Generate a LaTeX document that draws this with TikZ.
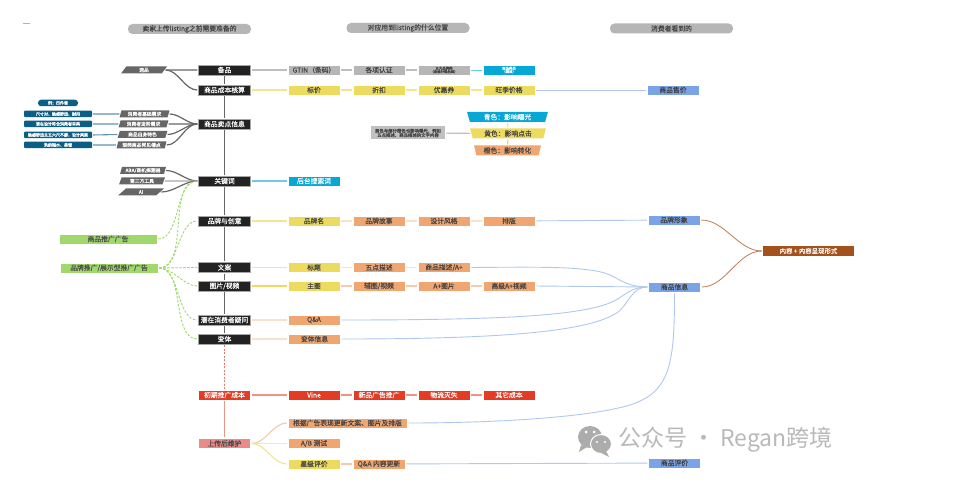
\documentclass[tikz,border=0pt]{standalone}
\usepackage{fontspec}
\setmainfont{Noto Sans CJK SC}[FakeBold=0.1]
\newfontfamily\wmfont{Noto Sans CJK SC}
\usetikzlibrary{shapes.geometric}
\definecolor{cdark}{HTML}{222222}
\definecolor{cgray}{HTML}{B6B6B6}
\definecolor{cslate}{HTML}{666666}
\definecolor{cyel}{HTML}{ECDB5E}
\definecolor{cora}{HTML}{F0A670}
\definecolor{ccyan}{HTML}{08A8D6}
\definecolor{cblue}{HTML}{7BA4E6}
\definecolor{cgreen}{HTML}{A0D86C}
\definecolor{cred}{HTML}{E43B25}
\definecolor{cpink}{HTML}{E98B88}
\definecolor{cbrown}{HTML}{A4521C}
\definecolor{cteal}{HTML}{0B5E85}
\definecolor{ctext}{HTML}{444444}
\newcommand{\fs}[1]{\fontsize{#1}{#1}\selectfont}
\tikzset{
  box/.style={rectangle,minimum width=52,minimum height=10,inner sep=0,font=\fs{6.8},text=ctext,draw=white,line width=.5},
  mainbox/.style={box,fill=cdark,draw=gray!70,text=white},
  graybox/.style={box,fill=cgray},
  yelbox/.style={box,fill=cyel},
  orabox/.style={box,fill=cora},
  cyanbox/.style={box,fill=ccyan,text=white},
  bluebox/.style={box,fill=cblue,text=black!75},
  redbox/.style={box,fill=cred,text=white},
  greenbox/.style={box,fill=cgreen,minimum width=98,text=black!70},
  pill/.style={rectangle,rounded corners=4.5,fill=cgray,minimum width=123,minimum height=10,inner sep=0,font=\fs{6.8},text=ctext},
  para/.style={trapezium,trapezium left angle=72,trapezium right angle=108,trapezium stretches=true,minimum width=50,minimum height=7,inner sep=0,fill=cslate,text=white,font=\fs{4.8}},
  teal/.style={rectangle,rounded corners=1,fill=cteal,text=white,minimum width=68,minimum height=6.5,inner sep=0,font=\fs{4}},
  funnel/.style={trapezium,shape border rotate=180,trapezium angle=74,trapezium stretches=true,minimum height=10,inner sep=0,font=\fs{6.8}},
  cn/.style={shorten >=1pt,shorten <=1pt,line width=1.1},
  ln gray/.style={cn,draw=gray!50},
  ln dark/.style={cn,draw=black!60,line width=1.2},
  ln yel/.style={cn,draw=cyel!70},
  ln ora/.style={cn,draw=cora!60},
  ln pale/.style={cn,draw=cora!35},
  ln blue/.style={cn,draw=cblue!60,line width=.9},
  ln teal/.style={cn,draw=cteal!65},
  ln cyan/.style={cn,draw=ccyan!60,line width=1.2},
  ln pink/.style={cn,draw=cred!55},
  ln brown/.style={cn,draw=cbrown!75,line width=.8},
  ln green/.style={cn,draw=cgreen,dashed,dash pattern=on 2.5pt off 1.5pt,line width=.9},
  sc/.style={out=0,in=180,looseness=.9}
}
\begin{document}
\begin{tikzpicture}[x=1pt,y=-1pt]
\useasboundingbox (0,0) rectangle (965,486);
\fill[white] (0,0) rectangle (965,486);
\fill[gray!60] (23,22.6) rectangle (30,23.4);
% headers
\node[pill] (h1) at (189.5,29) {卖家上传listing之前需要准备的};
\node[pill] (h2) at (408,28) {对应用到listing的什么位置};
\node[pill] (h3) at (671.5,28.5) {消费者看到的};
% main column
\node[mainbox] (m1) at (224.5,70) {备品};
\node[mainbox] (m2) at (224.5,90) {商品成本核算};
\node[mainbox] (m3) at (224.5,124) {商品卖点信息};
\node[mainbox] (m4) at (224.5,181) {关键词};
\node[mainbox] (m5) at (224.5,221) {品牌与创意};
\node[mainbox] (m6) at (224.5,267.5) {文案};
\node[mainbox] (m7) at (224.5,286) {图片/视频};
\node[mainbox] (m8) at (224.5,320) {潜在消费者疑问};
\node[mainbox] (m9) at (224.5,339) {变体};
\node[redbox] (m10) at (224.5,395) {初期推广成本};
\node[box,fill=cpink] (m11) at (224.5,443.5) {上传后维护};
% left
\node[para,minimum width=46] (l0) at (144,70) {选品};
\node[para] (p1) at (144.5,114) {消费者基础需求};
\node[para] (p2) at (143.5,124) {消费者进阶需求};
\node[para] (p3) at (142.5,134.5) {商品自身特色};
\node[para] (p4) at (141.5,145) {现类商品常见槽点};
\node[rectangle,rounded corners=3,fill=cteal,text=white,minimum width=40,minimum height=6.5,inner sep=0,font=\fs{4}] (t0) at (58,103) {例：四件套};
\node[teal] (t1) at (58,114) {尺寸对、触感舒适、耐用};
\node[teal] (t2) at (58,124) {现在设计符合消费者审美};
\node[teal] (t3) at (58,135) {触感舒适且五六尺不膨，设计美观};
\node[teal] (t4) at (58,145) {洗前褪水、易皱};
\node[para,minimum width=46] (k1) at (143,170.5) {ABA/商机探测器};
\node[para,minimum width=46] (k2) at (142,181) {第三方工具};
\node[para,minimum width=46] (k3) at (141,192) {AI};
\node[greenbox] (g1) at (108,239) {商品推广广告};
\node[greenbox] (g2) at (109,268) {品牌推广/展示型推广广告};
% row 1
\node[graybox] (a1) at (314,70) {GTIN（条码）};
\node[graybox] (a2) at (379,70) {各项认证};
\node[graybox,align=center,font=\fs{3.4}] (a3) at (444,70) {五大品牌类\\（含部分商品类）};
\node[cyanbox,align=center,font=\fs{3.4}] (a4) at (509,70) {商品类目\\（类目）};
% row 2
\node[yelbox] (b1) at (314,90) {标价};
\node[yelbox] (b2) at (379,90) {折扣};
\node[yelbox] (b3) at (444,90) {优惠券};
\node[yelbox] (b4) at (509,90) {旺季价格};
\node[bluebox] (r1) at (673,90) {商品售价};
% note and funnel
\node[rectangle,fill=cgray!85,align=center,font=\fs{4.4},text=ctext,inner sep=1,minimum width=74,minimum height=13] (note) at (408,133) {黄色与部分橙色也影响曝光，例如\\五点描述、商品描述的文字内容};
\node[funnel,minimum width=81,fill=ccyan,text=white] (f1) at (507.5,117) {青色：影响曝光};
\node[funnel,minimum width=76,fill=cyel,text=ctext] (f2) at (508,133.5) {黄色：影响点击};
\node[funnel,minimum width=67,fill=cora,text=ctext] (f3) at (507.5,150.5) {橙色：影响转化};
\node[cyanbox] (c1) at (314,181) {后台搜索词};
% brand
\node[yelbox] (d1) at (314,221) {品牌名};
\node[orabox] (d2) at (379,221) {品牌故事};
\node[orabox] (d3) at (444,221) {设计风格};
\node[orabox] (d4) at (509,221) {排版};
\node[bluebox] (r2) at (674,220) {品牌形象};
% copy
\node[yelbox] (e1) at (314,267.5) {标题};
\node[orabox] (e2) at (379,267.5) {五点描述};
\node[orabox] (e3) at (444,267.5) {商品描述/A+};
% image
\node[yelbox] (i1) at (314,286) {主图};
\node[orabox] (i2) at (379,286) {辅图/视频};
\node[orabox] (i3) at (444,286) {A+图片};
\node[orabox] (i4) at (509,286) {高级A+视频};
\node[bluebox] (r3) at (674.5,287) {商品信息};
\node[orabox] (q1) at (314,320) {Q\&A};
\node[orabox] (v1) at (314.5,339) {变体信息};
% launch
\node[redbox] (n1) at (314,395) {Vine};
\node[redbox] (n2) at (379,395) {新品广告推广};
\node[redbox] (n3) at (444,395) {物流灭失};
\node[redbox] (n4) at (509,395) {其它成本};
% upkeep
\node[orabox,minimum width=119] (u1) at (347.5,423) {根据广告表现更新文案、图片及排版};
\node[orabox] (u2) at (314,443.5) {A/B 测试};
\node[yelbox] (u3) at (314,464) {星级评价};
\node[orabox] (u4) at (379,464) {Q\&A 内容更新};
\node[bluebox] (r4) at (674.5,463) {商品评价};
\node[rectangle,minimum width=91,minimum height=10,inner sep=0,fill=cbrown,text=white,font=\fs{6.4}] (x) at (808.5,251) {内容 + 内容呈现形式};
% spine
\draw[ln dark] (m1)--(m2);
\draw[ln dark] (m2)--(m3);
\draw[ln dark] (m3)--(m4);
\draw[ln dark] (m4)--(m5);
\draw[ln dark] (m5)--(m6);
\draw[ln dark] (m6)--(m7);
\draw[ln dark] (m7)--(m8);
\draw[ln dark] (m8)--(m9);
\draw[cn,draw=cred!70,dashed,dash pattern=on 2pt off 1.5pt] (m9)--(m10);
\draw[ln pink] (m10)--(m11);
% left feeders
\draw[ln dark] (l0.east)--(m1.west);
\draw[ln dark] (l0.east) to[sc] (m2.west);
\draw[ln dark] (p1.east) to[sc] (m3.west);
\draw[ln dark] (p2.east) to[sc] (m3.west);
\draw[ln dark] (p3.east) to[sc] (m3.west);
\draw[ln dark] (p4.east) to[sc] (m3.west);
\draw[ln teal] (t1.east)--(p1.west);
\draw[ln teal] (t2.east)--(p2.west);
\draw[ln teal] (t3.east)--(p3.west);
\draw[ln teal] (t4.east)--(p4.west);
\draw[ln dark] (k1.east) to[sc] (m4.west);
\draw[ln dark,draw=gray!70] (k2.east)--(m4.west);
\draw[ln dark] (k3.east) to[sc] (m4.west);
% green dashed
\draw[ln green] (g1.east) to[out=0,in=180,looseness=.85] (m4.west);
\draw[ln green] (g2.east) to[out=0,in=180,looseness=.85] (m4.west);
\draw[ln green] (g2.east) to[out=0,in=180,looseness=.85] (m5.west);
\draw[ln green] (g2.east)--(m6.west);
\draw[ln green] (g2.east) to[out=0,in=180,looseness=.85] (m7.west);
\draw[ln green] (g2.east) to[out=0,in=180,looseness=.85] (m8.west);
\draw[ln green] (g2.east) to[out=0,in=180,looseness=.85] (m9.west);
% row lines
\draw[ln gray] (m1)--(a1);
\draw[ln gray] (a1)--(a2);
\draw[ln gray] (a2)--(a3);
\draw[ln cyan,line width=.9] (a3)--(a4);
\draw[ln yel] (m2)--(b1);
\draw[ln yel] (b1)--(b2);
\draw[ln yel] (b2)--(b3);
\draw[ln yel] (b3)--(b4);
\draw[ln blue] (b4)--(r1);
\draw[ln gray] (note)--(f2);
\draw[ln yel] (f1)--(f2);
\draw[ln ora] (f2)--(f3);
\draw[ln cyan] (m4)--(c1);
\draw[ln yel] (m5)--(d1);
\draw[ln pale] (d1)--(d2);
\draw[ln pale] (d2)--(d3);
\draw[ln pale] (d3)--(d4);
\draw[ln blue] (d4)--(r2);
\draw[ln yel] (m6)--(e1);
\draw[ln pale] (e1)--(e2);
\draw[ln pale] (e2)--(e3);
\draw[cn,draw=cyel] (m7)--(i1);
\draw[ln ora] (i1)--(i2);
\draw[ln ora] (i2)--(i3);
\draw[ln ora] (i3)--(i4);
\draw[ln blue] (i4.east)--(r3.west);
\draw[ln pale] (m8)--(q1);
\draw[ln pale] (m9)--(v1);
\draw[ln pink] (m10)--(n1);
\draw[ln pink] (n1)--(n2);
\draw[ln pink] (n2)--(n3);
\draw[ln pink] (n3)--(n4);
% blue curves
\draw[ln blue] (e3.east) .. controls (540,267) and (590,266) .. (610,275) .. controls (622,281) and (630,287) .. (r3.west);
\draw[ln blue] (q1.east) .. controls (500,320) and (580,316) .. (612,302) .. controls (625,296) and (630,287) .. (r3.west);
\draw[ln blue] (v1.east) .. controls (500,339) and (590,332) .. (618,312) .. controls (630,302) and (632,287) .. (r3.west);
\draw[ln blue] (u1.east) .. controls (500,423) and (590,417) .. (630,405) .. controls (670,392) and (674.5,365) .. (r3.south);
\draw[ln blue] (u4)--(r4);
% upkeep curves
\draw[ln ora] (m11.east) to[sc] (u1.west);
\draw[ln pale] (m11.east)--(u2.west);
\draw[ln yel] (m11.east) to[sc] (u3.west);
\draw[ln ora] (u3)--(u4);
% brown
\draw[ln brown] (r2.east) to[sc] (x.west);
\draw[ln brown] (r3.east) to[sc] (x.west);
% watermark
\fill[gray!65] (590,437) ellipse (12 and 11);
\fill[gray!65] (581,445) -- (579,452) -- (587,447) -- cycle;
\fill[gray!65,draw=white,line width=1] (601,444) ellipse (10.5 and 9.5);
\fill[gray!65] (606,451) -- (609,457) -- (601,453) -- cycle;
\fill[white] (586,432) circle (1.5) (594,432) circle (1.5) (597,442) circle (1.2) (605,442) circle (1.2);
\node[anchor=west,inner sep=0,text=gray!55,font=\wmfont\fs{23}] (wm) at (618,440) {公众号 · Regan跨境};
\end{tikzpicture}
\end{document}
